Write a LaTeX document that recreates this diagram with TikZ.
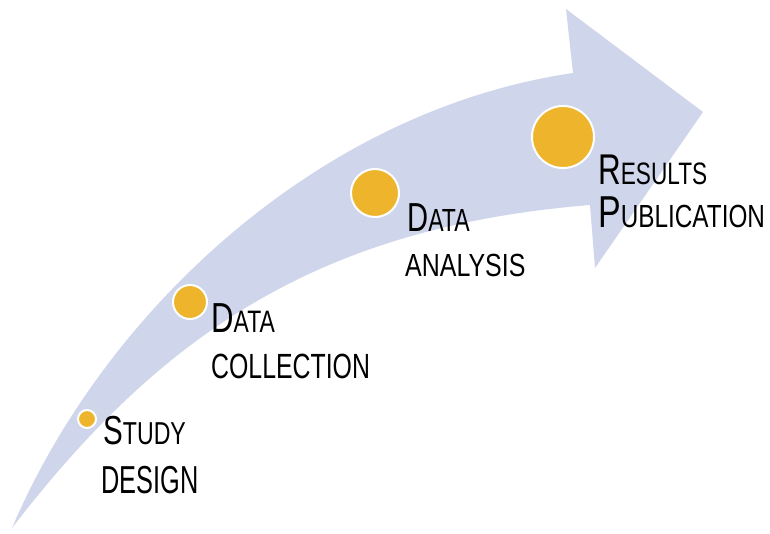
\documentclass[tikz,border=0pt]{standalone}
\usepackage{fontspec}
\usepackage{graphicx}
\setmainfont{Liberation Sans}
\definecolor{arrowfill}{HTML}{CFD5EB}
\definecolor{dotfill}{HTML}{EEB42B}
% #1 horizontal scale, #2 size of first letter, #3 size of rest, #4 first letter, #5 rest
\newcommand{\scl}[5]{\scalebox{#1}[1]{\fontsize{#2}{#2}\selectfont #4\fontsize{#3}{#3}\selectfont #5}}
\tikzset{
  dot/.style={fill=dotfill, draw=white, line width=2pt},
  lbl/.style={anchor=base west, inner sep=0pt, text=black}
}
\begin{document}
\begin{tikzpicture}[x=1pt,y=-1pt]
\useasboundingbox (0,0) rectangle (770,533);
% curved arrow
\fill[arrowfill] (12,528) .. controls (105,310) and (320,110) .. (573,73)
  -- (566,9) -- (703,112) -- (595,268) -- (590,205)
  .. controls (320,227) and (162,333) .. (12,528) -- cycle;
% dots
\draw[dot] (87,419) circle[radius=9];
\draw[dot] (190,302) circle[radius=17];
\draw[dot] (375,193) circle[radius=24];
\draw[dot] (563,137) circle[radius=31];
% labels
\node[lbl] (s1) at (103,444) {\scl{0.73}{40.5}{31.7}{S}{TUDY}};
\node[lbl] (s2) at (101,493) {\scl{0.65}{39}{39}{}{DESIGN}};
\node[lbl] (c1) at (211,332) {\scl{0.74}{42}{31}{D}{ATA}};
\node[lbl] (c2) at (211,378) {\scl{0.71}{35}{35}{}{COLLECTION}};
\node[lbl] (a1) at (407,231) {\scl{0.72}{40.5}{32}{D}{ATA}};
\node[lbl] (a2) at (405,276) {\scl{0.78}{32}{32}{}{ANALYSIS}};
\node[lbl] (r1) at (598,184) {\scl{0.73}{43}{31}{R}{ESULTS}};
\node[lbl] (r2) at (598,227) {\scl{0.76}{44.7}{32}{P}{UBLICATION}};
\end{tikzpicture}
\end{document}
